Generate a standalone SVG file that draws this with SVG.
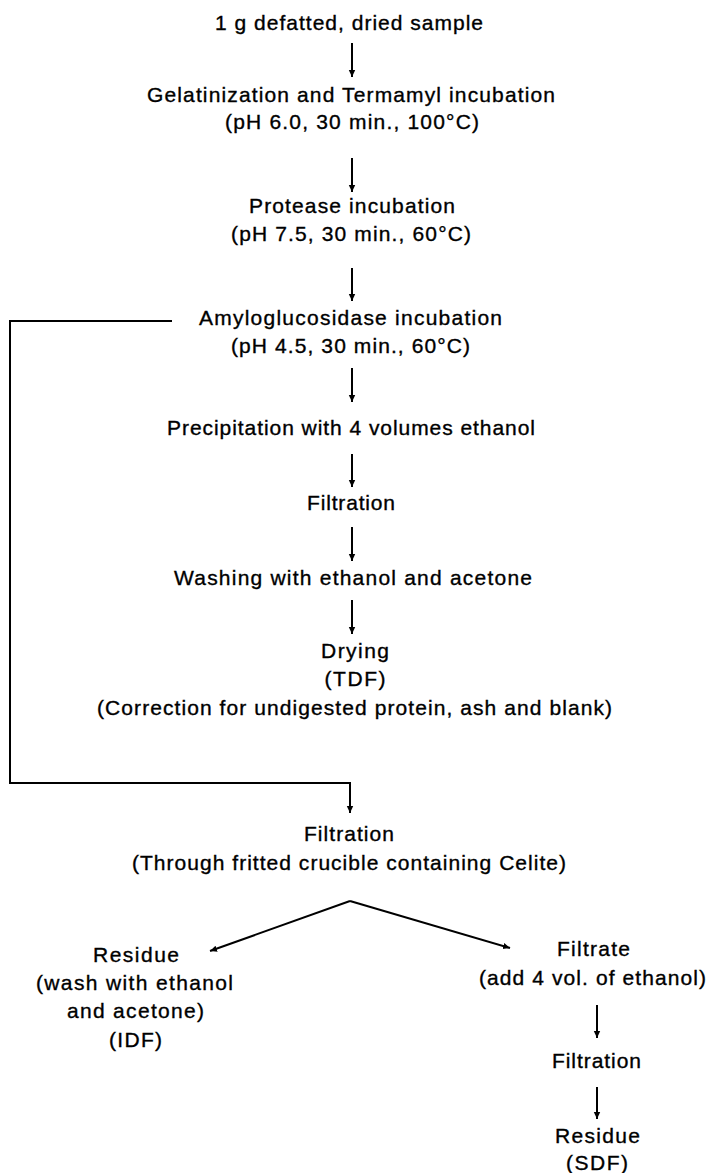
<svg xmlns="http://www.w3.org/2000/svg" width="707" height="1173" viewBox="0 0 707 1173">
<defs>
<marker id="ah" markerUnits="userSpaceOnUse" markerWidth="8" markerHeight="8" refX="7" refY="4" orient="auto">
<path d="M0,0.8 L7,4 L0,7.2 z" fill="#000"/>
</marker>
<style>
text{font-family:"Liberation Sans",Arial,sans-serif;font-size:21px;fill:#000;stroke:#000;stroke-width:0.35;text-anchor:middle}
.c line,.c polyline{stroke:#000;stroke-width:2;fill:none}
</style>
</defs>
<rect width="707" height="1173" fill="#fff"/>
<g class="c" id="connectors">
<line x1="352" y1="43" x2="352" y2="77" marker-end="url(#ah)"/>
<line x1="352" y1="158" x2="352" y2="192" marker-end="url(#ah)"/>
<line x1="352" y1="268" x2="352" y2="301" marker-end="url(#ah)"/>
<line x1="352" y1="368" x2="352" y2="402" marker-end="url(#ah)"/>
<line x1="352" y1="454" x2="352" y2="487" marker-end="url(#ah)"/>
<line x1="352" y1="527" x2="352" y2="561" marker-end="url(#ah)"/>
<line x1="352" y1="600" x2="352" y2="634" marker-end="url(#ah)"/>
<polyline points="172,321 10,321 10,783 350,783 350,813" marker-end="url(#ah)"/>
<polyline points="350,901 210,951" marker-end="url(#ah)"/>
<polyline points="350,901 510,948" marker-end="url(#ah)"/>
<line x1="597" y1="1005" x2="597" y2="1038" marker-end="url(#ah)"/>
<line x1="597" y1="1087" x2="597" y2="1119" marker-end="url(#ah)"/>
</g>
<g id="n1"><text x="349" y="30" textLength="268" lengthAdjust="spacing">1 g defatted, dried sample</text></g>
<g id="n2"><text x="351" y="102" textLength="408" lengthAdjust="spacing">Gelatinization and Termamyl incubation</text>
<text x="352" y="129" textLength="254" lengthAdjust="spacing">(pH 6.0, 30 min., 100°C)</text></g>
<g id="n3"><text x="352" y="213" textLength="206" lengthAdjust="spacing">Protease incubation</text>
<text x="351" y="241" textLength="240" lengthAdjust="spacing">(pH 7.5, 30 min., 60°C)</text></g>
<g id="n4"><text x="350.5" y="325" textLength="303" lengthAdjust="spacing">Amyloglucosidase incubation</text>
<text x="350.5" y="353" textLength="239" lengthAdjust="spacing">(pH 4.5, 30 min., 60°C)</text></g>
<g id="n5"><text x="351" y="435" textLength="368" lengthAdjust="spacing">Precipitation with 4 volumes ethanol</text></g>
<g id="n6"><text x="351" y="510" textLength="88" lengthAdjust="spacing">Filtration</text></g>
<g id="n7"><text x="353" y="585" textLength="358" lengthAdjust="spacing">Washing with ethanol and acetone</text></g>
<g id="n8"><text x="355" y="658" textLength="68" lengthAdjust="spacing">Drying</text>
<text x="355" y="686" textLength="61" lengthAdjust="spacing">(TDF)</text>
<text x="354.5" y="715" textLength="515" lengthAdjust="spacing">(Correction for undigested protein, ash and blank)</text></g>
<g id="n9"><text x="349" y="841" textLength="90" lengthAdjust="spacing">Filtration</text>
<text x="349" y="870" textLength="434" lengthAdjust="spacing">(Through fritted crucible containing Celite)</text></g>
<g id="n10"><text x="136" y="962" textLength="86" lengthAdjust="spacing">Residue</text>
<text x="134.5" y="990" textLength="197" lengthAdjust="spacing">(wash with ethanol</text>
<text x="135.5" y="1018" textLength="137" lengthAdjust="spacing">and acetone)</text>
<text x="135.5" y="1047" textLength="53" lengthAdjust="spacing">(IDF)</text></g>
<g id="n11"><text x="593.5" y="956" textLength="73" lengthAdjust="spacing">Filtrate</text>
<text x="592.5" y="985" textLength="227" lengthAdjust="spacing">(add 4 vol. of ethanol)</text></g>
<g id="n12"><text x="596.5" y="1068" textLength="89" lengthAdjust="spacing">Filtration</text></g>
<g id="n13"><text x="597.5" y="1143" textLength="85" lengthAdjust="spacing">Residue</text>
<text x="597" y="1170" textLength="62" lengthAdjust="spacing">(SDF)</text></g>
</svg>
